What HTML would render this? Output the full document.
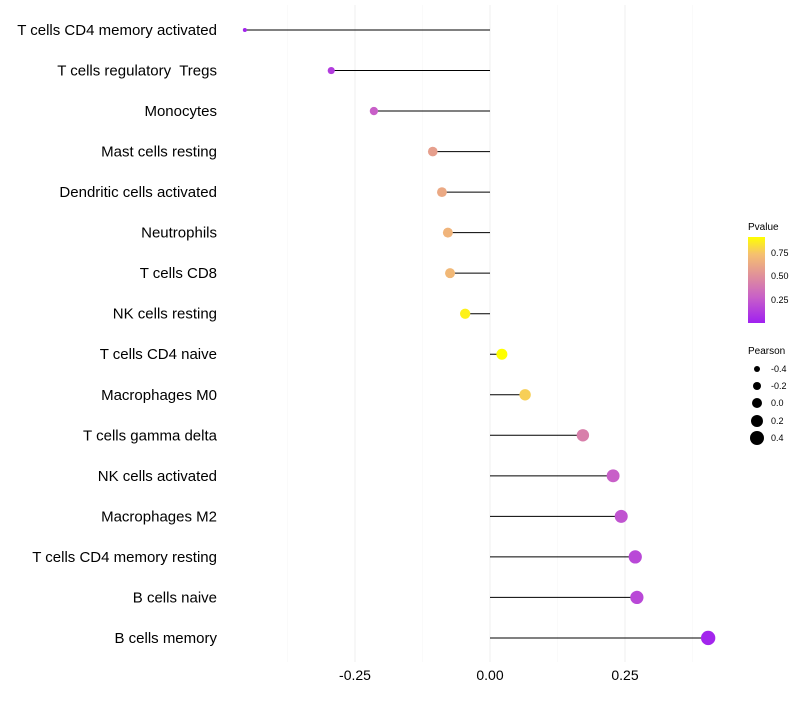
<!DOCTYPE html>
<html><head><meta charset="utf-8"><style>
body{margin:0;background:#fff;font-family:"Liberation Sans",sans-serif}
text{white-space:pre}
</style></head><body>
<svg id="c" width="800" height="700" xmlns="http://www.w3.org/2000/svg">
<defs><linearGradient id="g" x1="0" y1="1" x2="0" y2="0">
<stop offset="0" stop-color="#a020f0"/><stop offset="0.3" stop-color="#c860c8"/><stop offset="0.55" stop-color="#e0909a"/><stop offset="0.8" stop-color="#f5c070"/><stop offset="1" stop-color="#ffff00"/>
</linearGradient></defs>
<g id="grid"></g><g id="marks"></g><g id="labels"></g>
<g font-size="9">
<text x="748" y="230" font-size="10">Pvalue</text>
<rect x="748" y="237" width="17" height="86" fill="url(#g)"/>
<text x="771" y="256">0.75</text><text x="771" y="279">0.50</text><text x="771" y="303">0.25</text>
</g>
<g font-size="9">
<text x="748" y="354" font-size="10">Pearson</text>
<circle cx="757" cy="369" r="3"/><text x="771" y="372">-0.4</text>
<circle cx="757" cy="386" r="4"/><text x="771" y="389">-0.2</text>
<circle cx="757" cy="403" r="5"/><text x="771" y="406">0.0</text>
<circle cx="757" cy="421" r="6"/><text x="771" y="424">0.2</text>
<circle cx="757" cy="438" r="7"/><text x="771" y="441">0.4</text>
</g>
</svg>
<script>
const categories=["T cells CD4 memory activated","T cells regulatory  Tregs","Monocytes","Mast cells resting","Dendritic cells activated","Neutrophils","T cells CD8","NK cells resting","T cells CD4 naive","Macrophages M0","T cells gamma delta","NK cells activated","Macrophages M2","T cells CD4 memory resting","B cells naive","B cells memory"];
const pearson=[-0.454,-0.294,-0.215,-0.106,-0.089,-0.078,-0.074,-0.046,0.022,0.065,0.172,0.228,0.243,0.269,0.272,0.404];
const pvalue=[0.05,0.15,0.3,0.6,0.65,0.7,0.72,0.9,0.94,0.8,0.45,0.3,0.25,0.2,0.2,0.05];
const ticks=[-0.25,0,0.25];
const tickLabels=["-0.25","0.00","0.25"];
const NS="http://www.w3.org/2000/svg";
const x=v=>490+v*540;
const y=i=>30+i*40.53;
function col(p){const st=[[0,[160,32,240]],[0.3,[200,96,200]],[0.55,[224,144,154]],[0.8,[245,192,112]],[1,[255,255,0]]];
 const t=Math.max(0,Math.min(1,(p-0.03)/0.91));
 for(let k=1;k<st.length;k++){if(t<=st[k][0]){const a=st[k-1],b=st[k],f=(t-a[0])/(b[0]-a[0]);return `rgb(${a[1].map((c,j)=>Math.round(c+(b[1][j]-c)*f)).join(",")})`;}}return "rgb(255,255,0)";}
function mk(tag,attrs,parent){const e=document.createElementNS(NS,tag);for(const k in attrs)e.setAttribute(k,attrs[k]);parent.appendChild(e);return e;}
const grid=document.getElementById('grid'),marks=document.getElementById('marks'),labels=document.getElementById('labels');
[-0.375,-0.125,0.125,0.375].forEach(v=>{const l=mk('line',{x1:x(v),x2:x(v),y1:5,y2:662,stroke:'#f6f6f6','stroke-width':0.6},grid);

});
ticks.forEach((v,i)=>{const l=mk('line',{x1:x(v),x2:x(v),y1:5,y2:662,stroke:'#efefef','stroke-width':1},grid);


const t=mk('text',{x:x(v),y:680,'text-anchor':'middle','font-size':14,fill:'#000'},labels);t.textContent=tickLabels[i];

});
categories.forEach((c,i)=>{
const l=mk('line',{x1:x(0),x2:x(pearson[i]),y1:y(i),y2:y(i),stroke:'#000','stroke-width':1},marks);


const r=Math.sqrt(Math.max(3,29+55*pearson[i]));
const p=mk('circle',{cx:x(pearson[i]),cy:y(i),r:r,fill:col(pvalue[i])},marks);


const t=mk('text',{x:217,y:y(i)+5,'text-anchor':'end','font-size':15,fill:'#000'},labels);t.textContent=c;

});
</script>
</body></html>
